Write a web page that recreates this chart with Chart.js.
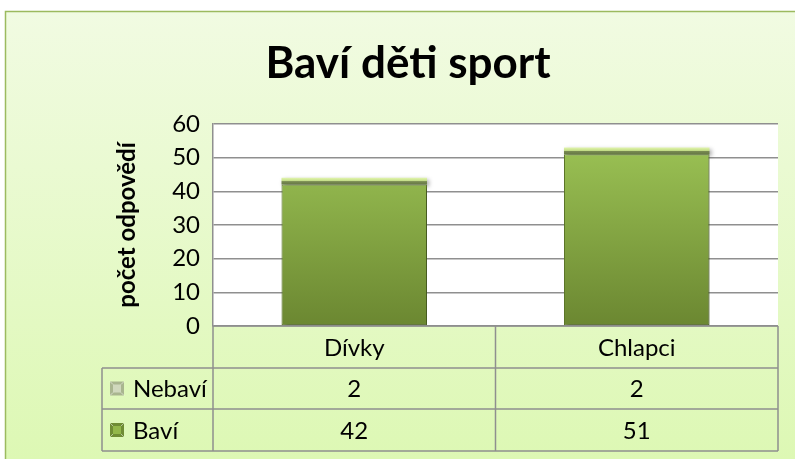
<!DOCTYPE html>
<html><head><meta charset="utf-8">
<script src="https://cdn.jsdelivr.net/npm/chart.js@4.4.0/dist/chart.umd.min.js"></script>
<style>html,body{margin:0;padding:0;background:#fff;}#wrap{width:795px;height:459px;position:relative}</style>
</head><body><div id="wrap"><canvas id="c" width="795" height="459"></canvas></div>
<script>
const categories = ['Dívky', 'Chlapci'];
const seriesNames = ['Nebaví', 'Baví'];
const nebavi = [2, 2];
const bavi = [42, 51];
const yTicks = [0, 10, 20, 30, 40, 50, 60];
const chartTitle = 'Baví děti sport';
const yTitle = 'počet odpovědí';

const FONT = 'Lato, "Open Sans", sans-serif';
const GRID = '#8f8f8f';

const bgPlugin = {
  id: 'bg',
  beforeDraw(chart) {
    const c = chart.ctx, a = chart.chartArea;
    c.save();
    c.fillStyle = '#fff';
    c.fillRect(0, 0, chart.width, chart.height);
    const g = c.createLinearGradient(0, 11, 0, 459);
    g.addColorStop(0, '#f1fbe2');
    g.addColorStop(1, '#ddf8b4');
    c.fillStyle = g;
    c.fillRect(5, 11, 800, 460);
    c.strokeStyle = '#9cba5f';
    c.lineWidth = 1.5;
    c.beginPath();
    c.moveTo(5.5, 470); c.lineTo(5.5, 11.5); c.lineTo(800, 11.5);
    c.stroke();
    c.fillStyle = '#000';
    c.font = 'bold 44px ' + FONT;
    c.textAlign = 'center';
    c.textBaseline = 'alphabetic';
    c.fillText(chartTitle, 408, 78);
    c.fillStyle = '#fff';
    c.fillRect(a.left, a.top, a.right - a.left, a.bottom - a.top);
    c.restore();
  }
};

const shadowPlugin = {
  id: 'shadow',
  beforeDatasetsDraw(chart) {
    const c = chart.ctx;
    c.save();
    c.shadowColor = 'rgba(0,0,0,0.35)';
    c.shadowBlur = 4;
    c.shadowOffsetX = 2;
    c.shadowOffsetY = 2;
  },
  afterDatasetsDraw(chart) { chart.ctx.restore(); }
};

function icon(c, x, y, s, outer, inner) {
  c.save();
  c.fillStyle = outer;
  c.fillRect(x, y, s, s);
  c.fillStyle = inner;
  c.fillRect(x + 3, y + 3, s - 6, s - 6);
  c.strokeStyle = 'rgba(255,255,255,0.5)';
  c.lineWidth = 1;
  c.beginPath();
  c.moveTo(x, y); c.lineTo(x + 3, y + 3);
  c.moveTo(x + s, y); c.lineTo(x + s - 3, y + 3);
  c.moveTo(x, y + s); c.lineTo(x + 3, y + s - 3);
  c.moveTo(x + s, y + s); c.lineTo(x + s - 3, y + s - 3);
  c.stroke();
  c.restore();
}

const tablePlugin = {
  id: 'table',
  afterDraw(chart) {
    const c = chart.ctx, a = chart.chartArea, xs = chart.scales.x;
    const top = a.bottom, r0 = 368, r1 = 409, r2 = 451, lx = 102;
    c.save();
    c.strokeStyle = GRID;
    c.lineWidth = 1.5;
    c.beginPath();
    c.moveTo(a.left, top); c.lineTo(a.right, top);
    c.moveTo(lx, r0); c.lineTo(a.right, r0);
    c.moveTo(lx, r1); c.lineTo(a.right, r1);
    c.moveTo(lx, r2); c.lineTo(a.right, r2);
    c.moveTo(lx, r0); c.lineTo(lx, r2);
    c.moveTo(a.left, top); c.lineTo(a.left, r2);
    c.moveTo(a.right, top); c.lineTo(a.right, r2);
    const mid = (xs.getPixelForValue(0) + xs.getPixelForValue(1)) / 2;
    c.moveTo(mid, top); c.lineTo(mid, r2);
    c.stroke();
    c.fillStyle = '#000';
    c.font = '24px ' + FONT;
    c.textBaseline = 'middle';
    c.textAlign = 'center';
    const rows = [nebavi, bavi];
    const ys = [(r0 + r1) / 2, (r1 + r2) / 2];
    categories.forEach((cat, i) => {
      const x = xs.getPixelForValue(i);
      c.fillText(cat, x, (top + r0) / 2 + 1);
      rows.forEach((vals, j) => c.fillText(String(vals[i]), x, ys[j] + 1));
    });
    c.textAlign = 'left';
    seriesNames.forEach((n, j) => c.fillText(n, 133, ys[j] + 1));
    icon(c, 110, ys[0] - 7, 14, '#a9b58f', '#d0d8bd');
    icon(c, 110, ys[1] - 7, 14, '#6f8c34', '#93b74a');
    c.restore();
  }
};

const ctx = document.getElementById('c').getContext('2d');
new Chart(ctx, {
  type: 'bar',
  data: {
    labels: categories,
    datasets: [
      {
        label: seriesNames[1],
        data: bavi,
        backgroundColor(cx) {
          const ch = cx.chart, a = ch.chartArea;
          if (!a) return '#88ad44';
          const g = ch.ctx.createLinearGradient(0, a.top, 0, a.bottom);
          g.addColorStop(0, '#a0c858');
          g.addColorStop(1, '#6b8731');
          return g;
        },
        borderColor: '#5f7a2a',
        borderWidth: 1,
        borderSkipped: false,
        categoryPercentage: 1,
        barPercentage: 0.515
      },
      {
        label: seriesNames[0],
        data: nebavi,
        backgroundColor(cx) {
          const ch = cx.chart, a = ch.chartArea;
          if (!a) return '#a0b070';
          const i = cx.dataIndex;
          const ys = ch.scales.y;
          const t = ys.getPixelForValue(bavi[i] + nebavi[i]);
          const b = ys.getPixelForValue(bavi[i]);
          const g = ch.ctx.createLinearGradient(0, t, 0, b);
          g.addColorStop(0, '#e2f6ae');
          g.addColorStop(0.45, '#c2dc86');
          g.addColorStop(0.55, '#788a52');
          g.addColorStop(1, '#667844');
          return g;
        },
        borderWidth: 0,
        categoryPercentage: 1,
        barPercentage: 0.515
      }
    ]
  },
  options: {
    responsive: false,
    animation: false,
    layout: { padding: { left: 109, right: 17, top: 124, bottom: 133 } },
    plugins: { legend: { display: false }, title: { display: false }, tooltip: { enabled: false } },
    scales: {
      x: { stacked: true, display: false },
      y: {
        stacked: true,
        min: 0, max: 60,
        afterFit(s) { s.width = 104; },
        afterBuildTicks(s) { s.ticks = yTicks.map(v => ({ value: v })); },
        ticks: { color: '#000', font: { size: 24, family: FONT }, padding: 13 },
        grid: { color: GRID, lineWidth: 1.5, drawTicks: false },
        border: { color: GRID, width: 1.5 },
        title: { display: true, text: yTitle, color: '#000', font: { size: 24, weight: 'bold', family: FONT }, padding: { top: 4, bottom: 0 } }
      }
    }
  },
  plugins: [bgPlugin, shadowPlugin, tablePlugin]
});
</script></body></html>
